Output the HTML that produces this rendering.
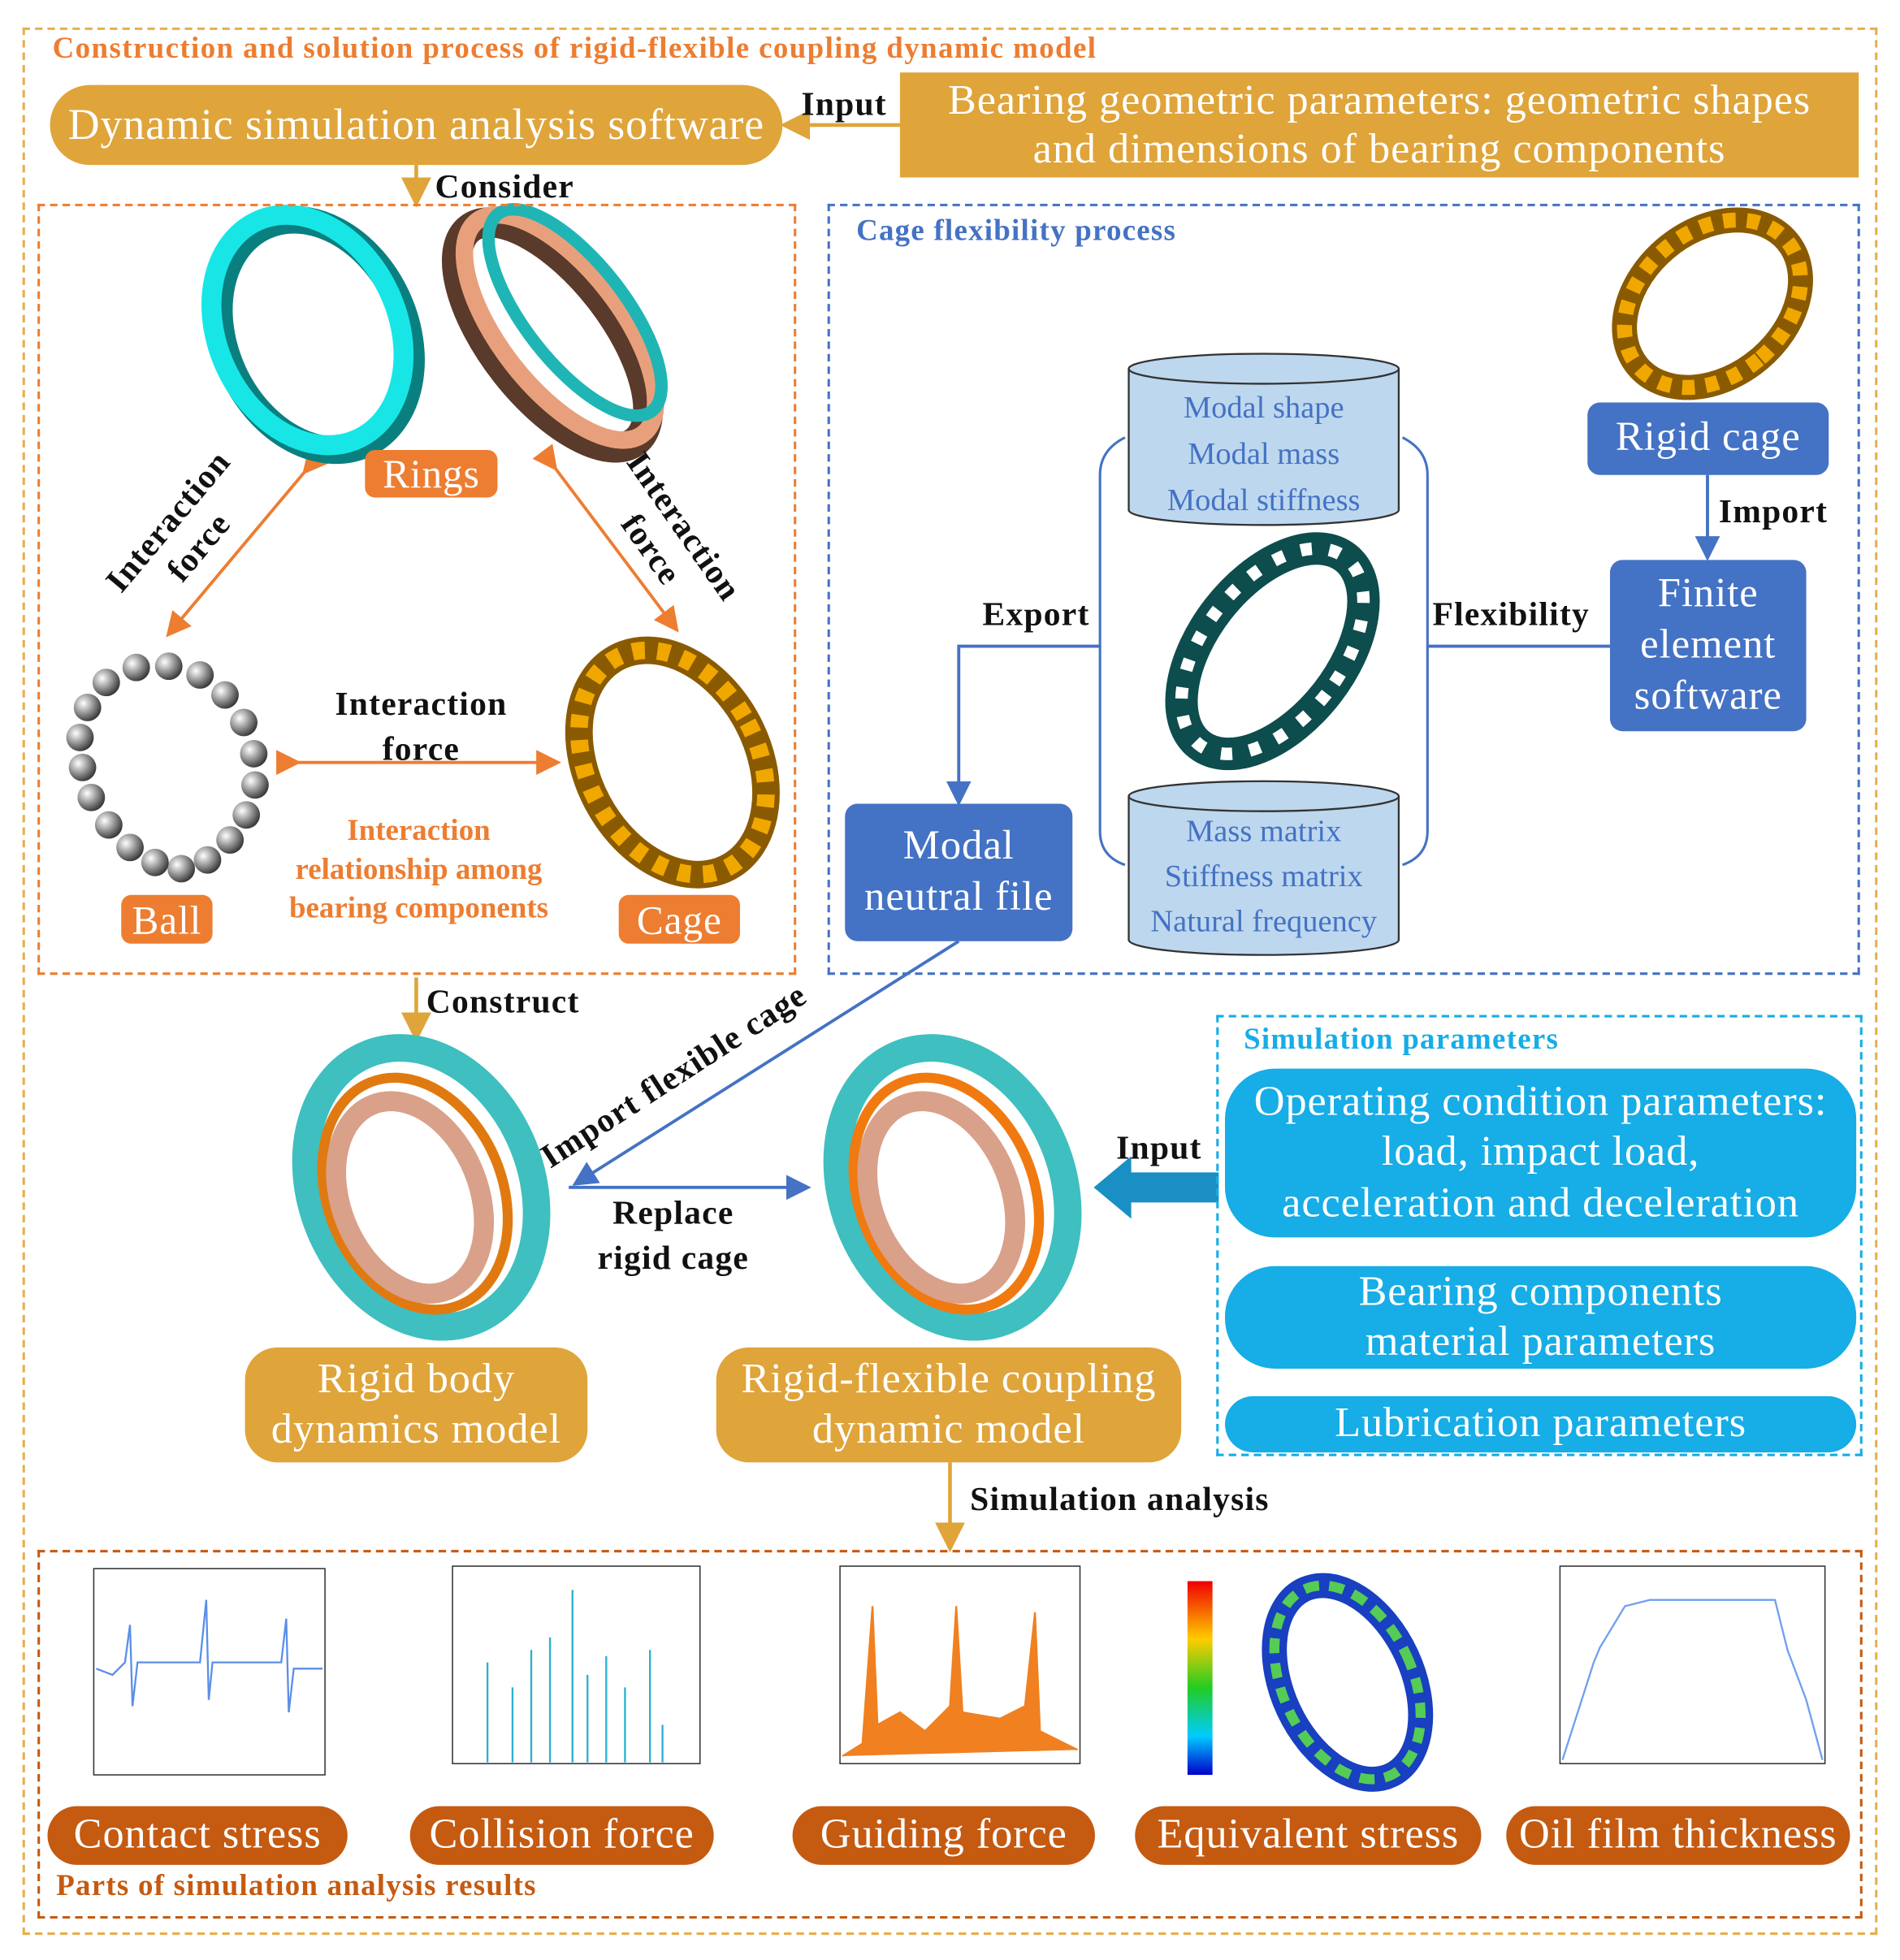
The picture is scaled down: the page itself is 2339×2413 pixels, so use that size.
<!DOCTYPE html>
<html><head><meta charset="utf-8"><style>
html,body{margin:0;padding:0;background:#fff;}
body{width:2339px;height:2412px;overflow:hidden;position:relative;}
#w{position:absolute;left:0;top:0;width:1520px;height:1568px;transform:scale(1.5388);transform-origin:0 0;font-family:"Liberation Serif",serif;}
.a{position:absolute;}
.pill{position:absolute;display:flex;align-items:center;justify-content:center;text-align:center;color:#fff;line-height:1.25;letter-spacing:0.6px;white-space:nowrap;}
.g{background:#DFA43A;}
.o{background:#ED7D31;border-radius:8px;}
.b{background:#4472C4;border-radius:10px;}
.c{background:#17ADE6;border-radius:40px;}
.r{background:#C55A11;border-radius:26px;font-size:34px;}
.lab{position:absolute;font-weight:bold;color:#111;white-space:nowrap;letter-spacing:0.8px;}
.dash{position:absolute;border:2px dashed;box-sizing:border-box;}
</style></head><body><div id="w">
<div class="dash" style="left:18px;top:22px;width:1484px;height:1526px;border-color:#E8AE4C"></div>
<div class="a" style="left:42px;top:26px;font-size:24px;font-weight:bold;color:#ED7D31;letter-spacing:0.9px;white-space:nowrap">Construction and solution process of rigid-flexible coupling dynamic model</div>
<div class="pill g" style="left:40px;top:68px;width:586px;height:64px;border-radius:32px;font-size:35px">Dynamic simulation analysis software</div>
<div class="pill g" style="left:720px;top:58px;width:767px;height:84px;font-size:34px;line-height:1.15">Bearing geometric parameters: geometric shapes<br>and dimensions of bearing components</div>
<svg class="a" style="left:0;top:0" width="1520" height="1568">
<defs>
<marker id="mo" markerWidth="8" markerHeight="8" refX="6" refY="4" orient="auto"><path d="M0,0L8,4L0,8z" fill="#DFA43A"/></marker>
<marker id="mr" markerWidth="8" markerHeight="8" refX="6" refY="4" orient="auto"><path d="M0,0L8,4L0,8z" fill="#ED7D31"/></marker>
<marker id="mb" markerWidth="8" markerHeight="8" refX="6" refY="4" orient="auto"><path d="M0,0L8,4L0,8z" fill="#4472C4"/></marker>
<linearGradient id="rb" x1="0" y1="0" x2="0" y2="1"><stop offset="0" stop-color="#e00"/><stop offset=".3" stop-color="#fc0"/><stop offset=".55" stop-color="#2c2"/><stop offset=".8" stop-color="#0cf"/><stop offset="1" stop-color="#00c"/></linearGradient>
<radialGradient id="ball" cx=".35" cy=".35" r=".7"><stop offset="0" stop-color="#fff"/><stop offset="1" stop-color="#333"/></radialGradient>
</defs>
<line x1="720" y1="100" x2="630" y2="100" stroke="#DFA43A" stroke-width="3" marker-end="url(#mo)"/>
<line x1="333" y1="132" x2="333" y2="160" stroke="#DFA43A" stroke-width="3" marker-end="url(#mo)"/>
<line x1="333" y1="782" x2="333" y2="828" stroke="#DFA43A" stroke-width="3" marker-end="url(#mo)"/>
<line x1="760" y1="1170" x2="760" y2="1236" stroke="#DFA43A" stroke-width="3" marker-end="url(#mo)"/>
<line x1="245" y1="376" x2="136" y2="506" stroke="#ED7D31" stroke-width="2.5" marker-end="url(#mr)" marker-start="url(#mr)"/>
<line x1="443" y1="373" x2="540" y2="502" stroke="#ED7D31" stroke-width="2.5" marker-end="url(#mr)" marker-start="url(#mr)"/>
<line x1="236" y1="610" x2="444" y2="610" stroke="#ED7D31" stroke-width="2.5" marker-end="url(#mr)" marker-start="url(#mr)"/>
<ellipse cx="252" cy="268" rx="72" ry="96" transform="rotate(-25 252 268)" fill="none" stroke="#0a7f80" stroke-width="22"/>
<ellipse cx="246" cy="264" rx="72" ry="96" transform="rotate(-25 246 264)" fill="none" stroke="#18E6E6" stroke-width="16"/>
<ellipse cx="442" cy="268" rx="48" ry="108" transform="rotate(-38 442 268)" fill="none" stroke="#5a3a2a" stroke-width="24"/>
<ellipse cx="448" cy="262" rx="48" ry="108" transform="rotate(-38 448 262)" fill="none" stroke="#E8A07C" stroke-width="14"/>
<ellipse cx="460" cy="250" rx="40" ry="100" transform="rotate(-38 460 250)" fill="none" stroke="#1fb5b5" stroke-width="10"/>
<g fill="url(#ball)">
<circle cx="135" cy="533" r="11"/><circle cx="160" cy="540" r="11"/><circle cx="180" cy="556" r="11"/><circle cx="195" cy="578" r="11"/><circle cx="203" cy="603" r="11"/><circle cx="204" cy="628" r="11"/><circle cx="197" cy="652" r="11"/><circle cx="184" cy="672" r="11"/><circle cx="166" cy="688" r="11"/><circle cx="145" cy="695" r="11"/><circle cx="124" cy="690" r="11"/><circle cx="104" cy="678" r="11"/><circle cx="87" cy="660" r="11"/><circle cx="73" cy="638" r="11"/><circle cx="66" cy="614" r="11"/><circle cx="64" cy="590" r="11"/><circle cx="70" cy="566" r="11"/><circle cx="85" cy="546" r="11"/><circle cx="109" cy="534" r="11"/>
</g>
<ellipse cx="538" cy="610" rx="68" ry="95" transform="rotate(-28 538 610)" fill="none" stroke="#8a5a00" stroke-width="22"/>
<ellipse cx="538" cy="610" rx="68" ry="95" transform="rotate(-28 538 610)" fill="none" stroke="#F0A800" stroke-width="14" stroke-dasharray="10 10"/>
<ellipse cx="1370" cy="243" rx="58" ry="78" transform="rotate(50 1370 243)" fill="none" stroke="#8a5a00" stroke-width="20"/>
<ellipse cx="1370" cy="243" rx="58" ry="78" transform="rotate(50 1370 243)" fill="none" stroke="#F0A800" stroke-width="12" stroke-dasharray="10 9"/>
<ellipse cx="1018" cy="521" rx="55" ry="95" transform="rotate(38 1018 521)" fill="none" stroke="#0d4d4d" stroke-width="26"/>
<ellipse cx="1018" cy="521" rx="55" ry="95" transform="rotate(38 1018 521)" fill="none" stroke="#fff" stroke-width="10" stroke-dasharray="9 14"/>
<g fill="#BDD7EE" stroke="#333" stroke-width="1.5">
<path d="M903,295 L903,408 A108,12 0 0 0 1119,408 L1119,295"/>
<ellipse cx="1011" cy="295" rx="108" ry="12"/>
<path d="M903,637 L903,752 A108,12 0 0 0 1119,752 L1119,637"/>
<ellipse cx="1011" cy="637" rx="108" ry="12"/>
</g>
<path d="M900,350 Q880,360 880,380 L880,665 Q880,685 900,692" fill="none" stroke="#4472C4" stroke-width="2"/>
<path d="M1122,350 Q1142,360 1142,380 L1142,665 Q1142,685 1122,692" fill="none" stroke="#4472C4" stroke-width="2"/>
<polyline points="880,517 767,517 767,640" fill="none" stroke="#4472C4" stroke-width="2.5" marker-end="url(#mb)"/>
<line x1="1142" y1="517" x2="1288" y2="517" stroke="#4472C4" stroke-width="2.5"/>
<line x1="1366" y1="380" x2="1366" y2="444" stroke="#4472C4" stroke-width="2.5" marker-end="url(#mb)"/>
<line x1="767" y1="753" x2="462" y2="946" stroke="#4472C4" stroke-width="2.5" marker-end="url(#mb)"/>
<line x1="455" y1="950" x2="644" y2="950" stroke="#4472C4" stroke-width="2.5" marker-end="url(#mb)"/>
<polygon points="875,950 905,925 905,938 975,938 975,962 905,962 905,975" fill="#1a8fc4"/>
<g>
<ellipse cx="337" cy="950" rx="88" ry="115" transform="rotate(-22 337 950)" fill="none" stroke="#3fbfbf" stroke-width="22"/>
<ellipse cx="332" cy="955" rx="70" ry="96" transform="rotate(-22 332 955)" fill="none" stroke="#E07A10" stroke-width="8"/>
<ellipse cx="328" cy="958" rx="55" ry="80" transform="rotate(-22 328 958)" fill="none" stroke="#D9A08A" stroke-width="16"/>
</g>
<g>
<ellipse cx="762" cy="950" rx="88" ry="115" transform="rotate(-22 762 950)" fill="none" stroke="#3fbfbf" stroke-width="22"/>
<ellipse cx="757" cy="955" rx="70" ry="96" transform="rotate(-22 757 955)" fill="none" stroke="#F07A10" stroke-width="8"/>
<ellipse cx="753" cy="958" rx="55" ry="80" transform="rotate(-22 753 958)" fill="none" stroke="#D9A08A" stroke-width="16"/>
</g>
<g fill="none" stroke="#333" stroke-width="1">
<rect x="75" y="1255" width="185" height="165"/>
<rect x="362" y="1253" width="198" height="158"/>
<rect x="672" y="1253" width="192" height="158"/>
<rect x="1248" y="1253" width="212" height="158"/>
</g>
<polyline points="77,1335 90,1340 100,1330 104,1300 106,1365 110,1330 160,1330 165,1280 167,1360 170,1330 225,1330 229,1295 231,1370 235,1335 258,1335" fill="none" stroke="#5b8fe8" stroke-width="1.5"/>
<g stroke="#2BB0D0" stroke-width="1.5"><line x1="390" y1="1410" x2="390" y2="1330"/><line x1="410" y1="1410" x2="410" y2="1350"/><line x1="425" y1="1410" x2="425" y2="1320"/><line x1="440" y1="1410" x2="440" y2="1310"/><line x1="458" y1="1410" x2="458" y2="1272"/><line x1="470" y1="1410" x2="470" y2="1340"/><line x1="485" y1="1410" x2="485" y2="1325"/><line x1="500" y1="1410" x2="500" y2="1350"/><line x1="520" y1="1410" x2="520" y2="1320"/><line x1="530" y1="1410" x2="530" y2="1380"/></g>
<polyline points="674,1405 690,1395 698,1285 702,1380 720,1370 740,1385 760,1365 765,1285 770,1370 800,1375 820,1365 828,1290 832,1385 862,1400" fill="#F08020" stroke="#F08020" stroke-width="1.5"/>
<rect x="950" y="1265" width="20" height="155" fill="url(#rb)"/>
<ellipse cx="1078" cy="1346" rx="52" ry="82" transform="rotate(-25 1078 1346)" fill="none" stroke="#1840c0" stroke-width="20"/>
<ellipse cx="1078" cy="1346" rx="52" ry="82" transform="rotate(-25 1078 1346)" fill="none" stroke="#5c5" stroke-width="8" stroke-dasharray="12 8"/>
<polyline points="1250,1408 1275,1330 1280,1318 1300,1285 1320,1280 1420,1280 1430,1320 1445,1360 1458,1408" fill="none" stroke="#6fa0ee" stroke-width="1.5"/>
</svg>
<div class="lab" style="left:641px;top:68px;font-size:27px">Input</div>
<div class="lab" style="left:348px;top:134px;font-size:27px">Consider</div>
<div class="dash" style="left:30px;top:163px;width:607px;height:617px;border-color:#ED7D31"></div>
<div class="dash" style="left:662px;top:163px;width:826px;height:617px;border-color:#4472C4"></div>
<div class="a" style="left:685px;top:172px;font-size:24px;font-weight:bold;color:#4472C4;letter-spacing:0.8px">Cage flexibility process</div>
<div class="pill o" style="left:292px;top:360px;width:106px;height:38px;font-size:32px">Rings</div>
<div class="pill o" style="left:97px;top:716px;width:73px;height:39px;font-size:32px">Ball</div>
<div class="pill o" style="left:495px;top:716px;width:97px;height:39px;font-size:32px">Cage</div>
<div class="lab" style="left:78px;top:395px;font-size:27px;text-align:center;transform:rotate(-50deg);line-height:1.2">Interaction<br>force</div>
<div class="lab" style="left:465px;top:398px;font-size:27px;text-align:center;transform:rotate(55deg);line-height:1.2">Interaction<br>force</div>
<div class="lab" style="left:268px;top:545px;font-size:27px;text-align:center;line-height:1.35">Interaction<br>force</div>
<div class="a" style="left:230px;top:650px;width:210px;font-size:24px;font-weight:bold;color:#ED7D31;text-align:center;line-height:1.3">Interaction relationship among bearing components</div>
<div class="a" style="left:903px;top:308px;width:216px;text-align:center;color:#4472C4;font-size:25px;line-height:37px">Modal shape<br>Modal mass<br>Modal stiffness</div>
<div class="a" style="left:900px;top:648px;width:222px;text-align:center;color:#4472C4;font-size:25px;line-height:36px">Mass matrix<br>Stiffness matrix<br>Natural frequency</div>
<div class="pill b" style="left:1270px;top:322px;width:193px;height:58px;font-size:33px">Rigid cage</div>
<div class="pill b" style="left:1288px;top:448px;width:157px;height:137px;font-size:33px">Finite<br>element<br>software</div>
<div class="pill b" style="left:676px;top:643px;width:182px;height:110px;font-size:33px">Modal<br>neutral file</div>
<div class="lab" style="left:786px;top:476px;font-size:27px">Export</div>
<div class="lab" style="left:1146px;top:476px;font-size:27px">Flexibility</div>
<div class="lab" style="left:1375px;top:394px;font-size:27px">Import</div>
<div class="lab" style="left:341px;top:786px;font-size:27px">Construct</div>
<div class="lab" style="left:444px;top:910px;font-size:27px;transform:rotate(-33deg);transform-origin:0 100%">Import flexible cage</div>
<div class="lab" style="left:478px;top:952px;font-size:27px;text-align:center;line-height:1.35">Replace<br>rigid cage</div>
<div class="lab" style="left:893px;top:903px;font-size:27px">Input</div>
<div class="dash" style="left:973px;top:812px;width:517px;height:353px;border-color:#17ADE6"></div>
<div class="a" style="left:995px;top:819px;font-size:24px;font-weight:bold;color:#17ADE6;letter-spacing:0.8px">Simulation parameters</div>
<div class="pill c" style="left:980px;top:855px;width:505px;height:135px;font-size:34px;line-height:1.18">Operating condition parameters:<br>load, impact load,<br>acceleration and deceleration</div>
<div class="pill c" style="left:980px;top:1013px;width:505px;height:82px;font-size:34px;line-height:1.18">Bearing components<br>material parameters</div>
<div class="pill c" style="left:980px;top:1117px;width:505px;height:45px;font-size:34px">Lubrication parameters</div>
<div class="pill g" style="left:196px;top:1078px;width:274px;height:92px;border-radius:26px;font-size:34px;line-height:1.18">Rigid body<br>dynamics model</div>
<div class="pill g" style="left:573px;top:1078px;width:372px;height:92px;border-radius:26px;font-size:34px;line-height:1.18">Rigid-flexible coupling<br>dynamic model</div>
<div class="lab" style="left:776px;top:1184px;font-size:27px">Simulation analysis</div>
<div class="dash" style="left:30px;top:1240px;width:1460px;height:295px;border-color:#C55A11"></div>
<div class="pill r" style="left:38px;top:1445px;width:240px;height:47px">Contact stress</div>
<div class="pill r" style="left:328px;top:1445px;width:243px;height:47px">Collision force</div>
<div class="pill r" style="left:634px;top:1445px;width:242px;height:47px">Guiding force</div>
<div class="pill r" style="left:908px;top:1445px;width:277px;height:47px">Equivalent stress</div>
<div class="pill r" style="left:1205px;top:1445px;width:275px;height:47px">Oil film thickness</div>
<div class="a" style="left:45px;top:1496px;font-size:24px;font-weight:bold;color:#C55A11;letter-spacing:0.8px">Parts of simulation analysis results</div>
</div></body></html>
